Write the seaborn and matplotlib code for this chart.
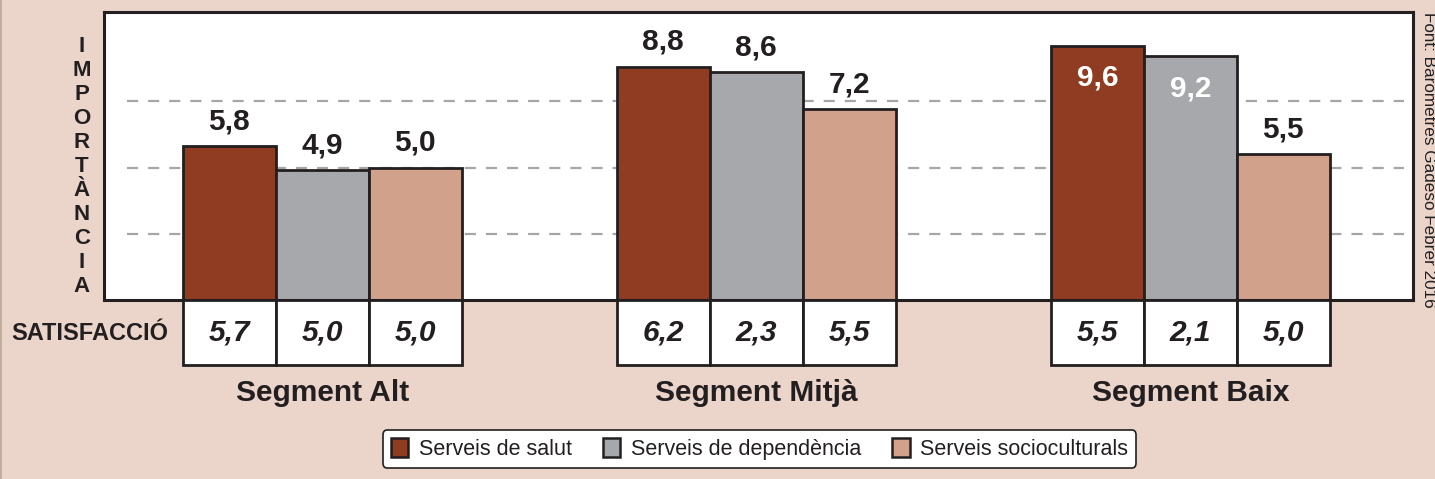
import matplotlib
matplotlib.use("Agg")
import matplotlib.pyplot as plt
from matplotlib.patches import Patch
from matplotlib.lines import Line2D
import seaborn as sns
import pandas as pd

# ---- data ----
segments = ["Segment Alt", "Segment Mitjà", "Segment Baix"]
services = ["Serveis de salut", "Serveis de dependència", "Serveis socioculturals"]
importancia_salut = [5.8, 8.8, 9.6]
importancia_dependencia = [4.9, 8.6, 9.2]
importancia_socio = [5.0, 7.2, 5.5]
satisfaccio_salut = [5.7, 6.2, 5.5]
satisfaccio_dependencia = [5.0, 2.3, 2.1]
satisfaccio_socio = [5.0, 5.5, 5.0]
y_axis_label = "IMPORTÀNCIA"
row_label = "SATISFACCIÓ"
source = "Font: Baròmetres Gadeso Febrer 2016"

imp = [importancia_salut, importancia_dependencia, importancia_socio]
sat = [satisfaccio_salut, satisfaccio_dependencia, satisfaccio_socio]
rows = []
for si, s in enumerate(services):
    for gi, g in enumerate(segments):
        rows.append({"segment": g, "servei": s, "imp": imp[si][gi], "sat": sat[si][gi], "one": 1.0})
df = pd.DataFrame(rows)

colors = ["#8f3c22", "#a7a8ab", "#d2a18b"]
bg = "#ebd5cb"
edge = "#231f20"
FONT = "Liberation Sans"

sns.set_theme(style="white")
plt.rcParams["font.family"] = [FONT, "DejaVu Sans"]

fig = plt.figure(figsize=(14.35, 4.79), dpi=100, facecolor=bg)

W, H = 1435, 479
def fx(px): return px / W
def fy(py): return 1 - py / H

left, right, top, bottom = 104, 1413, 12, 300
ax = fig.add_axes([fx(left), fy(bottom), fx(right - left), (bottom - top) / H])
ax.set_facecolor("white")

sns.barplot(data=df, x="segment", y="imp", hue="servei", order=segments, hue_order=services,
            palette=colors, width=0.643, edgecolor=edge, linewidth=2.0, saturation=1,
            legend=False, ax=ax, zorder=3)
ax.set_xlim(-0.503, 2.513)
ax.set_ylim(0, 10.87)
ax.set_xticks([]); ax.set_yticks([])
ax.set_xlabel(""); ax.set_ylabel("")
for sp in ax.spines.values():
    sp.set_color(edge); sp.set_linewidth(2.2); sp.set_zorder(5)

for gv in [2.5, 5.0, 7.5]:
    ax.axhline(gv, xmin=0.0176, xmax=0.993, color="#a6a6a6", lw=1.6, dashes=(5, 4.5), zorder=1)

# value labels
for cont, vals in zip(ax.containers, imp):
    for patch, v in zip(cont.patches, vals):
        xc = patch.get_x() + patch.get_width() / 2
        h = patch.get_height()
        txt = f"{v:.1f}".replace(".", ",")
        if v >= 9.0:
            ax.annotate(txt, (xc, h), xytext=(0, -23), textcoords="offset points",
                        ha="center", va="center", fontsize=21.5, fontweight="bold", color="white", zorder=6)
        else:
            ax.annotate(txt, (xc, h), xytext=(0, 18), textcoords="offset points",
                        ha="center", va="center", fontsize=21.5, fontweight="bold", color=edge, zorder=6)

# satisfaction boxes
ax2 = fig.add_axes([fx(left), fy(365), fx(right - left), 65 / H])
sns.barplot(data=df, x="segment", y="one", hue="servei", order=segments, hue_order=services,
            palette=["white"] * 3, width=0.643, edgecolor=edge, linewidth=2.0, saturation=1,
            legend=False, ax=ax2)
ax2.set_xlim(-0.503, 2.513)
ax2.set_ylim(0, 1)
ax2.axis("off")
for p in ax2.patches:
    p.set_clip_on(False)
for cont, vals in zip(ax2.containers, sat):
    for patch, v in zip(cont.patches, vals):
        xc = patch.get_x() + patch.get_width() / 2
        ax2.text(xc, 0.5, f"{v:.1f}".replace(".", ","), ha="center", va="center",
                 fontsize=21.5, fontweight="bold", fontstyle="italic", color=edge)
for i, g in enumerate(segments):
    ax2.text(i, -0.43, g, ha="center", va="center", fontsize=21.5, fontweight="bold", color=edge)

fig.text(fx(90), fy(333), row_label, ha="center", va="center", fontsize=17,
         fontweight="bold", color=edge)

for i, ch in enumerate(y_axis_label):
    fig.text(fx(82), fy(46 + i * 24.1), ch, ha="center", va="center", fontsize=16,
             fontweight="bold", color=edge)

fig.text(fx(1428), fy(160), source, rotation=270, ha="center", va="center",
         fontsize=12.3, color=edge)

handles = [Patch(facecolor=c, edgecolor=edge, linewidth=1.8) for c in colors]
leg = fig.legend(handles, services, loc="center", bbox_to_anchor=(fx(759.5), fy(449)), ncol=3,
                 fontsize=15.5, frameon=True, fancybox=True, handlelength=0.8, handleheight=1.0,
                 handletextpad=0.5, columnspacing=1.45, borderpad=0.35, borderaxespad=0)
fr = leg.get_frame()
fr.set_facecolor("white"); fr.set_edgecolor(edge); fr.set_linewidth(1.2); fr.set_alpha(1)
for t in leg.get_texts():
    t.set_color(edge)

fig.add_artist(Line2D([0.0007, 0.0007], [0, 1], transform=fig.transFigure, color="#b9a498", lw=1.2))

fig.savefig("out.png", dpi=100, facecolor=bg)
